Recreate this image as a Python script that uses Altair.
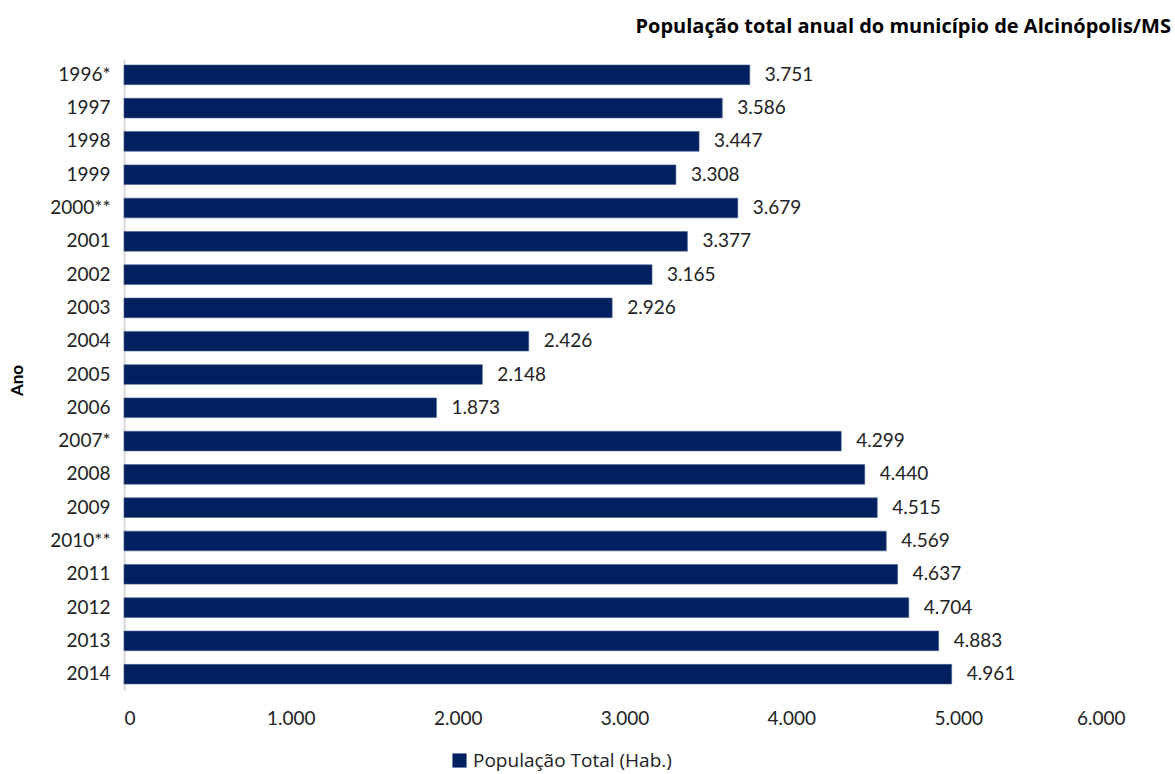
import altair as alt
import pandas as pd

anos = ["1996*", "1997", "1998", "1999", "2000**", "2001", "2002", "2003", "2004",
        "2005", "2006", "2007*", "2008", "2009", "2010**", "2011", "2012", "2013", "2014"]
populacao = [3751, 3586, 3447, 3308, 3679, 3377, 3165, 2926, 2426,
             2148, 1873, 4299, 4440, 4515, 4569, 4637, 4704, 4883, 4961]
serie = "População Total (Hab.)"
titulo = "População total anual do município de Alcinópolis/MS"

df = pd.DataFrame({"Ano": anos, "Pop": populacao})
df["Serie"] = serie
df["Rotulo"] = [f"{v:,}".replace(",", ".") for v in populacao]

FONT = "Lato"
COLOR = "#002060"

base = alt.Chart(df).encode(
    y=alt.Y("Ano:N", sort=anos, title="Ano",
            scale=alt.Scale(paddingInner=0.41, paddingOuter=0.18),
            axis=alt.Axis(domainColor="#d9d9d9", domainWidth=2, ticks=False,
                          labelPadding=14, labelFontSize=19, labelColor="#222222",
                          labelFont=FONT, titleFont=FONT, titleFontSize=17,
                          titleFontWeight="bold", titleColor="#000000",
                          titleX=-98, titleY=321)),
)

bars = base.mark_bar(color=COLOR, stroke="#4a5f8f", strokeWidth=0.6).encode(
    x=alt.X("Pop:Q", title=None,
            scale=alt.Scale(domain=[0, 6000], nice=False),
            axis=alt.Axis(values=[0, 1000, 2000, 3000, 4000, 5000, 6000],
                          labelExpr="replace(format(datum.value, ','), ',', '.')",
                          domain=False, ticks=False, grid=False,
                          labelPadding=19, labelFontSize=19, labelFont=FONT,
                          labelColor="#222222")),
    color=alt.Color("Serie:N", scale=alt.Scale(range=[COLOR]),
                    legend=alt.Legend(title=None, orient="none", legendX=326,
                                      legendY=692, symbolType="square",
                                      symbolSize=200, labelFontSize=19,
                                      labelFont="Open Sans", labelColor="#222222",
                                      labelLimit=0, symbolStrokeWidth=0)),
)

labels = base.mark_text(align="left", baseline="middle", dx=15, fontSize=19,
                        font=FONT, color="#222222").encode(
    x="Pop:Q", text="Rotulo:N")

chart = (bars + labels).properties(
    width=1001, height=631,
    autosize=alt.AutoSizeParams(type="none"),
    padding={"left": 124, "top": 59, "right": 50, "bottom": 84},
    title=alt.TitleParams(titulo, anchor="end", font="Open Sans", fontSize=20,
                          fontWeight="bold", color="#000000", dx=46, offset=22),
).configure_view(stroke=None).configure_axis(grid=False)

chart.save("out.html", embed_options={"renderer": "svg", "actions": False})
